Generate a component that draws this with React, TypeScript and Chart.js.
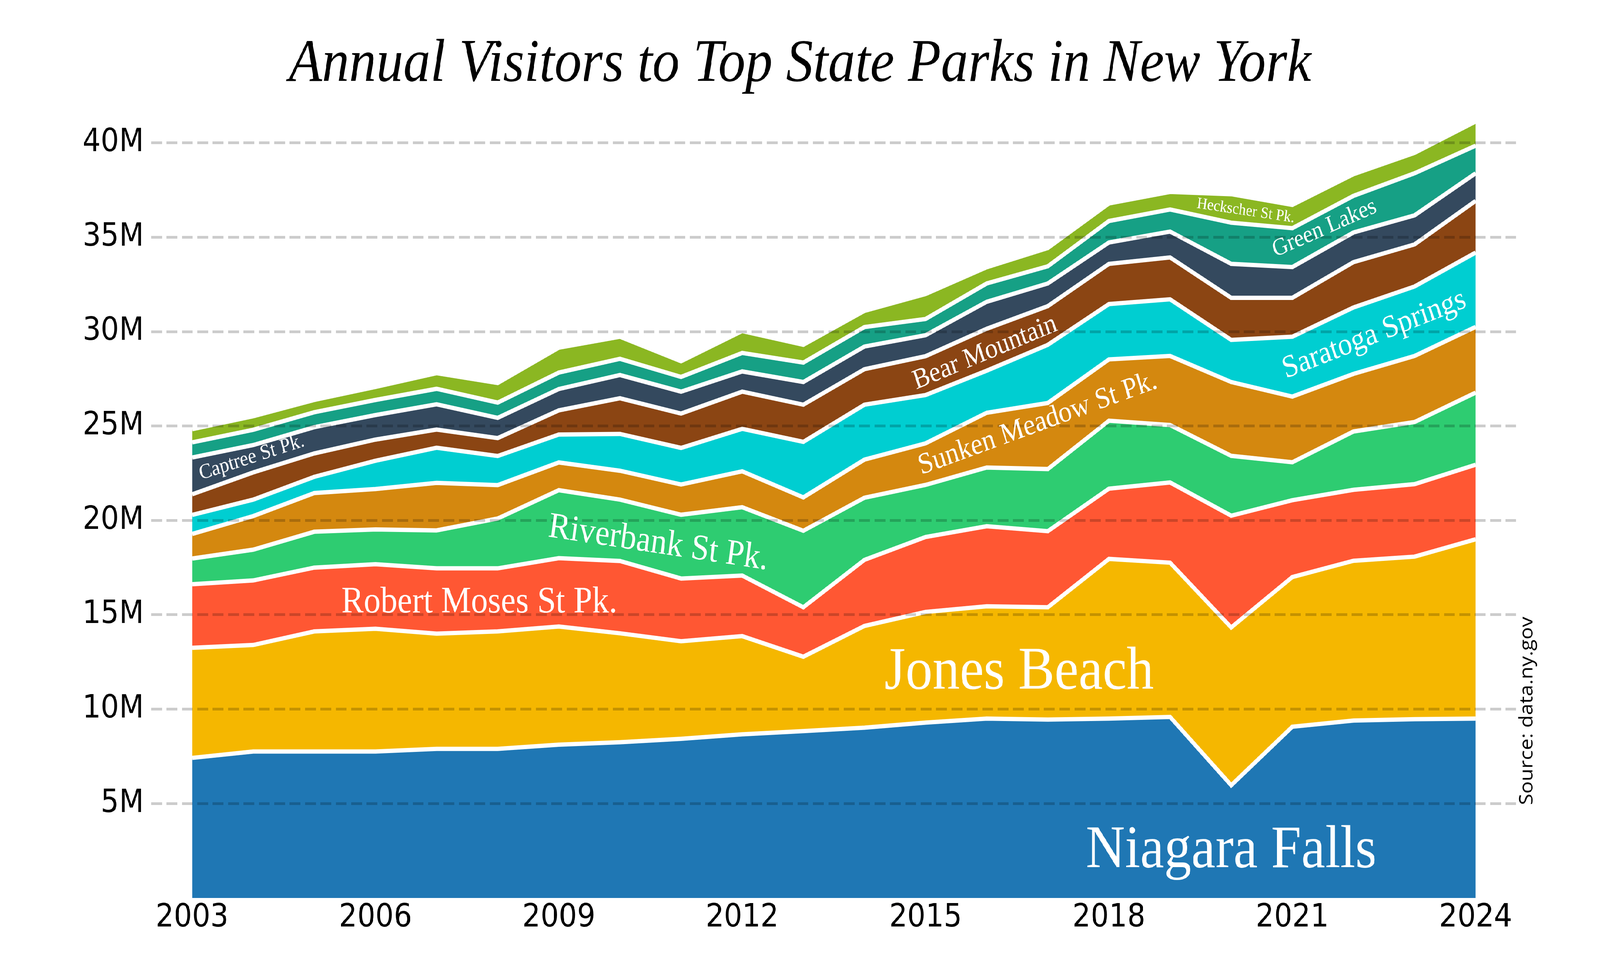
import React, { useEffect, useRef, useState } from 'react';
import { Chart, registerables } from 'chart.js';

Chart.register(...registerables);

// ---------- DATA (visitors, millions) ----------
const years = [2003, 2004, 2005, 2006, 2007, 2008, 2009, 2010, 2011, 2012, 2013, 2014, 2015, 2016, 2017, 2018, 2019, 2020, 2021, 2022, 2023, 2024];

const niagaraFalls = [7.42, 7.76, 7.76, 7.76, 7.90, 7.90, 8.12, 8.25, 8.43, 8.67, 8.84, 9.02, 9.29, 9.50, 9.45, 9.50, 9.59, 5.97, 9.07, 9.40, 9.47, 9.50];
const jonesBeach = [5.83, 5.64, 6.36, 6.50, 6.10, 6.22, 6.26, 5.77, 5.17, 5.20, 3.94, 5.39, 5.86, 5.95, 5.95, 8.46, 8.17, 8.36, 7.93, 8.46, 8.61, 9.50];
const robertMoses = [3.37, 3.42, 3.38, 3.42, 3.46, 3.34, 3.62, 3.83, 3.32, 3.21, 2.62, 3.50, 3.97, 4.24, 4.03, 3.72, 4.25, 5.92, 4.07, 3.76, 3.84, 3.95];
const riverbank = [1.36, 1.63, 1.90, 1.84, 2.01, 2.64, 3.60, 3.25, 3.38, 3.62, 4.05, 3.29, 2.76, 3.11, 3.29, 3.60, 3.04, 3.17, 2.01, 3.09, 3.29, 3.82];
const sunkenMeadow = [1.30, 1.78, 2.05, 2.14, 2.52, 1.77, 1.47, 1.53, 1.60, 1.90, 1.77, 2.02, 2.20, 2.90, 3.50, 3.25, 3.66, 3.91, 3.48, 3.05, 3.50, 3.48];
const saratogaSprings = [1.01, 0.87, 0.86, 1.50, 1.86, 1.54, 1.48, 1.95, 1.94, 2.25, 2.94, 2.91, 2.56, 2.23, 3.08, 2.93, 3.00, 2.23, 3.17, 3.52, 3.68, 3.94];
const bearMountain = [1.09, 1.44, 1.24, 1.12, 0.96, 0.95, 1.28, 1.89, 1.82, 1.97, 1.97, 1.88, 2.06, 2.22, 2.05, 2.13, 2.22, 2.23, 2.06, 2.40, 2.23, 2.74];
const captree = [1.95, 1.45, 1.39, 1.30, 1.34, 1.07, 1.13, 1.23, 1.16, 1.07, 1.20, 1.20, 1.11, 1.43, 1.20, 1.13, 1.37, 1.80, 1.63, 1.57, 1.54, 1.46];
const greenLakes = [0.80, 0.81, 0.79, 0.80, 0.82, 0.81, 0.87, 0.86, 0.78, 0.98, 1.03, 1.03, 0.86, 0.97, 0.91, 1.14, 1.17, 2.18, 2.06, 1.94, 2.23, 1.46];
const heckscher = [0.70, 0.72, 0.65, 0.69, 0.83, 1.04, 1.32, 1.17, 0.83, 1.16, 0.94, 0.86, 1.32, 0.86, 0.97, 0.93, 0.93, 1.51, 1.23, 1.15, 1.08, 1.28];

const parkNames = ['Niagara Falls', 'Jones Beach', 'Robert Moses St Pk.', 'Riverbank St Pk.', 'Sunken Meadow St Pk.', 'Saratoga Springs', 'Bear Mountain', 'Captree St Pk.', 'Green Lakes', 'Heckscher St Pk.'];
const parkSeries = [niagaraFalls, jonesBeach, robertMoses, riverbank, sunkenMeadow, saratogaSprings, bearMountain, captree, greenLakes, heckscher];

const yTickValues = [5, 10, 15, 20, 25, 30, 35, 40];
const xTickValues = [2003, 2006, 2009, 2012, 2015, 2018, 2021, 2024];

// ---------- STYLES ----------
const parkColors = ['#1f77b4', '#f5b700', '#ff5733', '#2ecc71', '#d4880f', '#00ced1', '#8b4513', '#34495e', '#16a085', '#8bb722'];

// area labels: anchor (year, value in M), angle deg, font size px
const AREA_LABELS = [
  { text: 'Niagara Falls', year: 2020.0, value: 1.63, angle: 0, size: 155 },
  { text: 'Jones Beach', year: 2016.53, value: 11.09, angle: 0, size: 155 },
  { text: 'Robert Moses St Pk.', year: 2007.7, value: 15.13, angle: 0, size: 96 },
  { text: 'Riverbank St Pk.', year: 2010.61, value: 18.27, angle: 7.7, size: 93 },
  { text: 'Sunken Meadow St Pk.', year: 2016.87, value: 24.73, angle: -18.2, size: 76 },
  { text: 'Bear Mountain', year: 2016.01, value: 28.51, angle: -20.5, size: 72 },
  { text: 'Saratoga Springs', year: 2022.38, value: 29.42, angle: -19.5, size: 81 },
  { text: 'Green Lakes', year: 2021.56, value: 35.15, angle: -21.7, size: 62 },
  { text: 'Heckscher St Pk.', year: 2020.23, value: 36.17, angle: 7.6, size: 41 },
  { text: 'Captree St Pk.', year: 2004.0, value: 23.05, angle: -16.2, size: 54 },
];
const SOURCE = { text: 'Source: data.ny.gov', year: 2024.93, value: 9.91, angle: -90, size: 53 };

const REF_W = 4574;
const REF_H = 2509;

const labelPlugin = {
  id: 'areaLabels',
  afterDraw(chart: any) {
    const { ctx } = chart;
    const xs = chart.scales.x;
    const ys = chart.scales.y;
    ctx.save();
    for (const l of AREA_LABELS) {
      const px = xs.getPixelForValue(l.year);
      const py = ys.getPixelForValue(l.value);
      ctx.save();
      ctx.translate(px, py);
      ctx.rotate((l.angle * Math.PI) / 180);
      ctx.font = `${l.size}px "Liberation Serif"`;
      ctx.fillStyle = '#ffffff';
      ctx.textAlign = 'center';
      ctx.textBaseline = 'alphabetic';
      ctx.fillText(l.text, 0, 0);
      ctx.restore();
    }
    const sx = xs.getPixelForValue(SOURCE.year);
    const sy = ys.getPixelForValue(SOURCE.value);
    ctx.save();
    ctx.translate(sx, sy);
    ctx.rotate((SOURCE.angle * Math.PI) / 180);
    ctx.font = `${SOURCE.size}px "Open Sans"`;
    ctx.fillStyle = '#000000';
    ctx.textAlign = 'center';
    ctx.textBaseline = 'alphabetic';
    ctx.fillText(SOURCE.text, 0, 0);
    ctx.restore();
    ctx.restore();
  },
};

export default function App() {
  const ref = useRef<HTMLCanvasElement>(null);
  const [scale, setScale] = useState<[number, number]>([
    typeof window !== 'undefined' ? window.innerWidth / REF_W : 1,
    typeof window !== 'undefined' ? window.innerHeight / REF_H : 1,
  ]);

  useEffect(() => {
    const onResize = () => setScale([window.innerWidth / REF_W, window.innerHeight / REF_H]);
    window.addEventListener('resize', onResize);
    return () => window.removeEventListener('resize', onResize);
  }, []);

  useEffect(() => {
    if (!ref.current) return;
    const datasets = parkSeries.map((series, i) => ({
      label: parkNames[i],
      data: years.map((yr, j) => ({ x: yr, y: series[j] })),
      backgroundColor: parkColors[i],
      borderColor: '#ffffff',
      borderWidth: 11,
      pointRadius: 0,
      pointHoverRadius: 0,
      tension: 0,
      fill: i === 0 ? 'origin' : '-1',
    }));

    const chart = new Chart(ref.current, {
      type: 'line',
      data: { datasets },
      plugins: [labelPlugin],
      options: {
        animation: false,
        responsive: false,
        devicePixelRatio: 1,
        layout: { padding: 0 },
        plugins: {
          legend: { display: false },
          tooltip: { enabled: false },
          title: {
            display: true,
            text: 'Annual Visitors to Top State Parks in New York',
            color: '#000000',
            font: { family: '"Liberation Serif"', size: 155, style: 'italic', weight: 'normal', lineHeight: 1.2 },
            padding: { top: 73, bottom: 10 },
          },
        },
        scales: {
          x: {
            type: 'linear',
            min: 2002.33,
            max: 2024.66,
            afterFit: (s: any) => { s.height = 210; },
            afterBuildTicks: (s: any) => { s.ticks = xTickValues.map((v) => ({ value: v })); },
            ticks: {
              callback: (v: any) => String(v),
              color: '#000000',
              font: { family: '"DejaVu Sans"', size: 82 },
              padding: 3,
              maxRotation: 0,
              autoSkip: false,
            },
            grid: { display: false, drawTicks: false },
            border: { display: false },
          },
          y: {
            type: 'linear',
            position: 'left',
            stacked: true,
            min: 0,
            max: 42,
            afterFit: (s: any) => { s.width = 432; },
            afterBuildTicks: (s: any) => { s.ticks = yTickValues.map((v) => ({ value: v })); },
            ticks: {
              callback: (v: any) => `${v}M`,
              color: '#000000',
              font: { family: '"DejaVu Sans"', size: 82 },
              padding: 21,
            },
            grid: { color: 'rgba(0,0,0,0.2)', lineWidth: 7, drawTicks: false, z: 1 },
            border: { display: false, dash: [31, 13] },
          },
          y2: {
            type: 'linear',
            position: 'right',
            display: true,
            afterFit: (s: any) => { s.width = 240; },
            ticks: { display: false },
            grid: { display: false, drawTicks: false },
            border: { display: false },
          },
        },
      } as any,
    } as any);

    return () => chart.destroy();
  }, []);

  return (
    <div
      style={{
        position: 'fixed',
        left: 0,
        top: 0,
        width: REF_W,
        height: REF_H,
        background: '#ffffff',
        transformOrigin: '0 0',
        transform: `scale(${scale[0]}, ${scale[1]})`,
      }}
    >
      <canvas ref={ref} width={REF_W} height={REF_H} style={{ display: 'block', width: REF_W, height: REF_H }} />
    </div>
  );
}
